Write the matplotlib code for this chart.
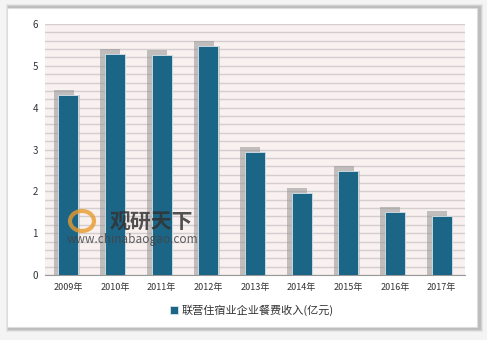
import matplotlib.pyplot as plt
from matplotlib.patches import Rectangle, Ellipse
import numpy as np

plt.rcParams['font.family'] = ['Noto Sans CJK SC', 'DejaVu Sans']

years = ['2009年', '2010年', '2011年', '2012年', '2013年', '2014年', '2015年', '2016年', '2017年']
values = [4.31, 5.29, 5.27, 5.48, 2.94, 1.97, 2.48, 1.50, 1.40]
series_name = '联营住宿业企业餐费收入(亿元)'

bar_color = '#1b6587'
W, H = 487, 340

fig = plt.figure(figsize=(W / 100, H / 100), dpi=100)
fig.patch.set_facecolor('#f4f4f4')

# white panel with soft shadow
for i, a in enumerate([0.06, 0.08, 0.10]):
    d = 3 - i
    fig.patches.append(Rectangle(((7 - d + 2) / W, 1 - (329 + d) / H), (471 + 2 * d) / W, (322 + 2 * d) / H,
                                 transform=fig.transFigure, facecolor='black', alpha=a, edgecolor='none', zorder=-2))
fig.patches.append(Rectangle((7 / W, 1 - 327 / H), 470 / W, 319 / H, transform=fig.transFigure,
                             facecolor='white', edgecolor='#dddddd', lw=0.8, zorder=-1))

ax = fig.add_axes([45 / W, 1 - 275 / H, 420 / W, 251 / H])
ax.set_zorder(1)
ax.set_facecolor('#f9f0f0')

x = np.arange(len(years))
ax.set_xlim(-0.5, len(years) - 0.5)
ax.set_ylim(0, 6)
ax.set_yticks(np.arange(0, 7, 1))
ax.set_yticks(np.arange(0, 6.01, 0.2), minor=True)
ax.yaxis.grid(True, which='both', color='#d3cfcf', lw=1.0)
ax.set_axisbelow(True)

# shadows behind bars
ax.bar(x - 0.1, np.array(values) + 0.12, width=0.43, color='#8c8c8c', alpha=0.5, zorder=2)
ax.bar(x + 0.02, values, width=0.45, color='#a8a8a8', alpha=0.5, zorder=2)
ax.bar(x, values, width=0.43, color=bar_color, edgecolor='#d8e4ea', lw=0.6, zorder=3,
       label=series_name)

ax.set_xticks(x)
ax.set_xticklabels(years, fontsize=6.5, color='#333333')
ax.tick_params(axis='y', which='both', length=0, labelsize=7, labelcolor='#333333', pad=5)
ax.tick_params(axis='x', length=0, pad=6)
for s in ['top', 'right', 'left']:
    ax.spines[s].set_visible(False)
ax.spines['bottom'].set_color('#999999')

leg = fig.legend(loc='center', bbox_to_anchor=(252 / W, 1 - 310 / H), frameon=False,
                 fontsize=8, handlelength=0.7, handleheight=0.7, handletextpad=0.4)
for t in leg.get_texts():
    t.set_color('#333333')

# watermark
fig.text(110 / W, 1 - 222 / H, '观研天下', fontsize=15, fontweight='bold', color='#333333',
         alpha=0.85, va='center', ha='left', zorder=5)
fig.text(67 / W, 1 - 240 / H, 'www.chinabaogao.com', fontsize=8.5, color='#444444',
         alpha=0.85, va='center', ha='left', zorder=5)
fig.patches.append(Ellipse((82 / W, 1 - 221 / H), 24 / W, 20 / H, transform=fig.transFigure,
                           facecolor='none', edgecolor='#e89a2c', lw=3, alpha=0.8, zorder=5))

fig.savefig('out.png', dpi=100)
